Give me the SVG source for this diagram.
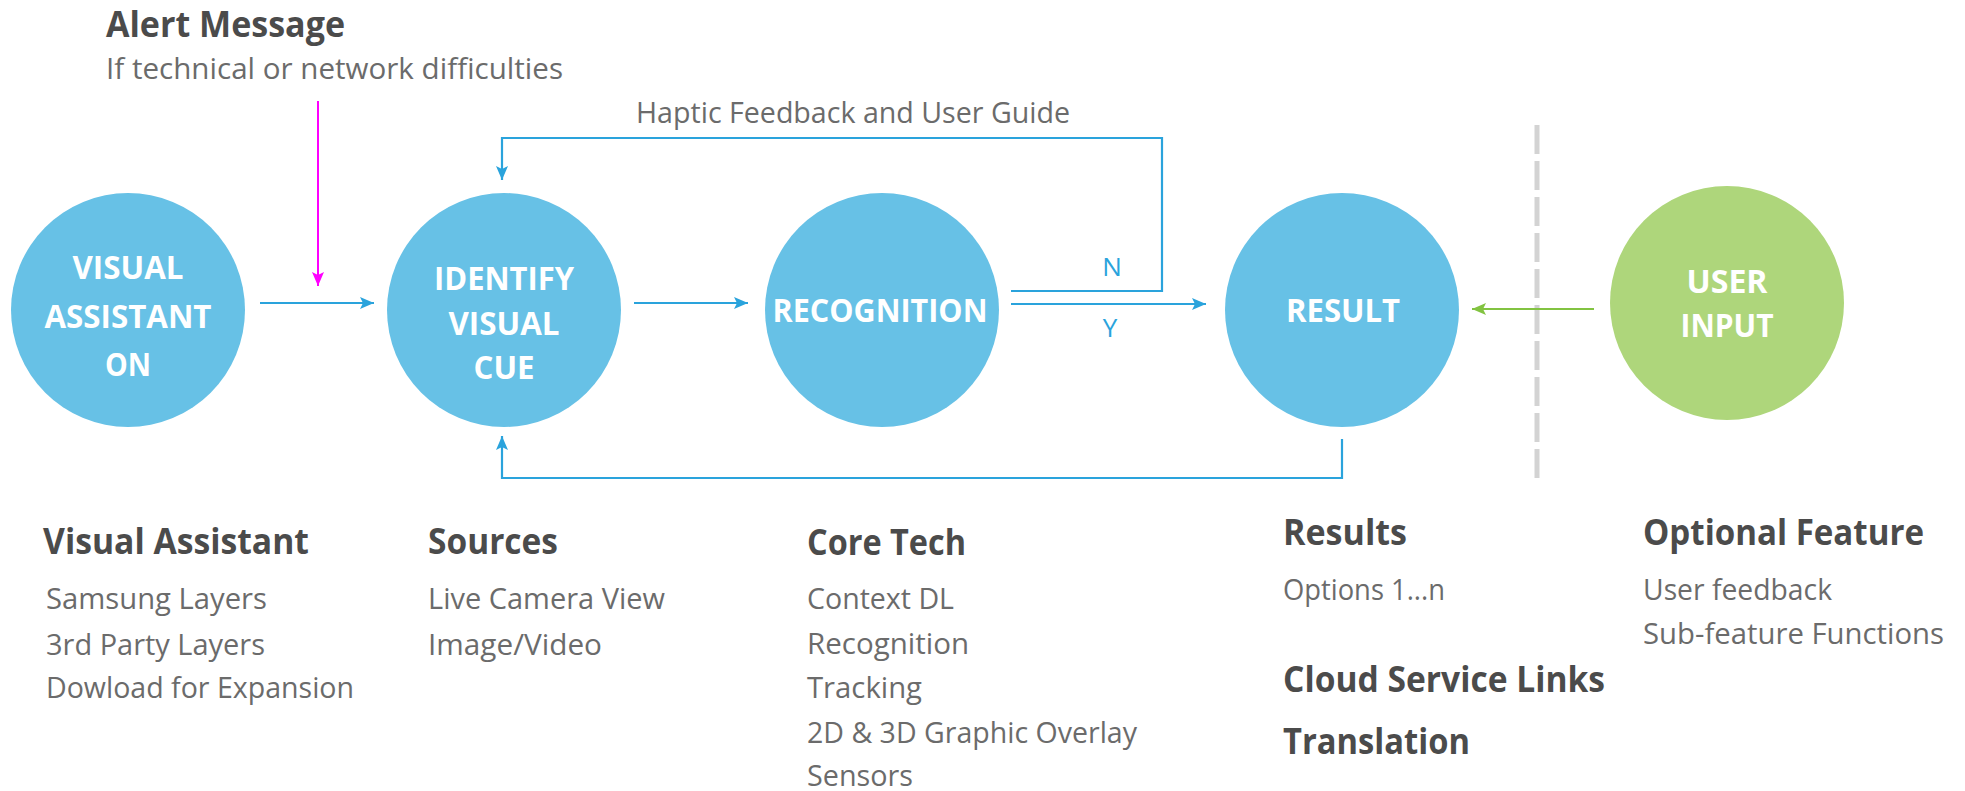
<svg xmlns="http://www.w3.org/2000/svg" width="1965" height="791" viewBox="0 0 1965 791">
<style>
.t{font-family:"Open Sans","Noto Sans","Liberation Sans",sans-serif}
.h{font-weight:700;font-size:35px;fill:#4b4b4b}
.b{font-weight:400;font-size:29px;fill:#6b6b6b}
.c{font-weight:700;font-size:32px;fill:#ffffff;text-anchor:middle}
.blue{fill:#67c1e6}
.green{fill:#aed67b}
.con{fill:none;stroke:#2aa3dc;stroke-width:2.2}
.lbl{font-weight:400;font-size:26px;fill:#2aa3dc;text-anchor:middle}
</style>
<defs>
<marker id="ab" markerUnits="userSpaceOnUse" markerWidth="16" markerHeight="14" refX="14" refY="6" orient="auto"><path d="M0,0 L14,6 L0,12 L3,6 z" fill="#2aa3dc"/></marker>
<marker id="am" markerUnits="userSpaceOnUse" markerWidth="16" markerHeight="14" refX="14" refY="6" orient="auto"><path d="M0,0 L14,6 L0,12 L3,6 z" fill="#ff00ff"/></marker>
<marker id="ag" markerUnits="userSpaceOnUse" markerWidth="16" markerHeight="14" refX="14" refY="6" orient="auto"><path d="M0,0 L14,6 L0,12 L3,6 z" fill="#82c341"/></marker>
</defs>
<rect width="1965" height="791" fill="#ffffff"/>

<g id="alert">
<text class="t h" x="106" y="37" font-size="34" textLength="239" lengthAdjust="spacingAndGlyphs">Alert Message</text>
<text class="t b" x="106" y="79" textLength="457" lengthAdjust="spacingAndGlyphs">If technical or network difficulties</text>
</g>

<line id="divider" x1="1537" y1="125" x2="1537" y2="480" stroke="#d3d3d3" stroke-width="5" stroke-dasharray="29 7"/>

<g id="connectors">
<line class="con" x1="260" y1="303" x2="374" y2="303" marker-end="url(#ab)"/>
<line x1="318" y1="101" x2="318" y2="286" stroke="#ff00ff" stroke-width="2" marker-end="url(#am)"/>
<line class="con" x1="634" y1="303" x2="748" y2="303" marker-end="url(#ab)"/>
<line class="con" x1="1011" y1="304" x2="1206" y2="304" marker-end="url(#ab)"/>
<polyline class="con" points="1011,291 1162,291 1162,138 502,138 502,180" marker-end="url(#ab)"/>
<polyline class="con" points="1342,439 1342,478 502,478 502,436" marker-end="url(#ab)"/>
<line x1="1594" y1="309" x2="1472" y2="309" stroke="#82c341" stroke-width="2.2" marker-end="url(#ag)"/>
<text class="t b" x="636" y="123" font-size="28" textLength="434" lengthAdjust="spacingAndGlyphs">Haptic Feedback and User Guide</text>
<text class="t lbl" x="1112" y="276">N</text>
<text class="t lbl" x="1110" y="337">Y</text>
</g>

<g id="visual-assistant-on">
<circle class="blue" cx="128" cy="310" r="117"/>
<text class="t c" x="128" y="279" textLength="111" lengthAdjust="spacingAndGlyphs">VISUAL</text>
<text class="t c" x="128" y="328" textLength="167" lengthAdjust="spacingAndGlyphs">ASSISTANT</text>
<text class="t c" x="128" y="376" textLength="46" lengthAdjust="spacingAndGlyphs">ON</text>
</g>

<g id="identify-visual-cue">
<circle class="blue" cx="504" cy="310" r="117"/>
<text class="t c" x="504" y="290" textLength="140" lengthAdjust="spacingAndGlyphs">IDENTIFY</text>
<text class="t c" x="504" y="335" textLength="111" lengthAdjust="spacingAndGlyphs">VISUAL</text>
<text class="t c" x="504" y="379" textLength="61" lengthAdjust="spacingAndGlyphs">CUE</text>
</g>

<g id="recognition">
<circle class="blue" cx="882" cy="310" r="117"/>
<text class="t c" x="880" y="322" textLength="215" lengthAdjust="spacingAndGlyphs">RECOGNITION</text>
</g>

<g id="result">
<circle class="blue" cx="1342" cy="310" r="117"/>
<text class="t c" x="1343" y="322" textLength="114" lengthAdjust="spacingAndGlyphs">RESULT</text>
</g>

<g id="user-input">
<circle class="green" cx="1727" cy="303" r="117"/>
<text class="t c" x="1727" y="293" textLength="81" lengthAdjust="spacingAndGlyphs">USER</text>
<text class="t c" x="1727" y="337" textLength="93" lengthAdjust="spacingAndGlyphs">INPUT</text>
</g>

<g id="desc-visual-assistant">
<text class="t h" x="43" y="554" textLength="266" lengthAdjust="spacingAndGlyphs">Visual Assistant</text>
<text class="t b" x="46" y="609" textLength="221" lengthAdjust="spacingAndGlyphs">Samsung Layers</text>
<text class="t b" x="46" y="655" textLength="219" lengthAdjust="spacingAndGlyphs">3rd Party Layers</text>
<text class="t b" x="46" y="698" textLength="308" lengthAdjust="spacingAndGlyphs">Dowload for Expansion</text>
</g>

<g id="desc-sources">
<text class="t h" x="428" y="554" textLength="130" lengthAdjust="spacingAndGlyphs">Sources</text>
<text class="t b" x="428" y="609" textLength="237" lengthAdjust="spacingAndGlyphs">Live Camera View</text>
<text class="t b" x="428" y="655" textLength="174" lengthAdjust="spacingAndGlyphs">Image/Video</text>
</g>

<g id="desc-core-tech">
<text class="t h" x="807" y="555" textLength="159" lengthAdjust="spacingAndGlyphs">Core Tech</text>
<text class="t b" x="807" y="609" textLength="147" lengthAdjust="spacingAndGlyphs">Context DL</text>
<text class="t b" x="807" y="654" textLength="162" lengthAdjust="spacingAndGlyphs">Recognition</text>
<text class="t b" x="807" y="698" textLength="115" lengthAdjust="spacingAndGlyphs">Tracking</text>
<text class="t b" x="807" y="743" textLength="330" lengthAdjust="spacingAndGlyphs">2D &amp; 3D Graphic Overlay</text>
<text class="t b" x="807" y="786" textLength="106" lengthAdjust="spacingAndGlyphs">Sensors</text>
</g>

<g id="desc-results">
<text class="t h" x="1283" y="545" textLength="124" lengthAdjust="spacingAndGlyphs">Results</text>
<text class="t b" x="1283" y="600" textLength="162" lengthAdjust="spacingAndGlyphs">Options 1...n</text>
<text class="t h" x="1283" y="692" textLength="322" lengthAdjust="spacingAndGlyphs">Cloud Service Links</text>
<text class="t h" x="1283" y="754" textLength="187" lengthAdjust="spacingAndGlyphs">Translation</text>
</g>

<g id="desc-optional">
<text class="t h" x="1643" y="545" textLength="281" lengthAdjust="spacingAndGlyphs">Optional Feature</text>
<text class="t b" x="1643" y="600" textLength="189" lengthAdjust="spacingAndGlyphs">User feedback</text>
<text class="t b" x="1643" y="644" textLength="301" lengthAdjust="spacingAndGlyphs">Sub-feature Functions</text>
</g>
</svg>
